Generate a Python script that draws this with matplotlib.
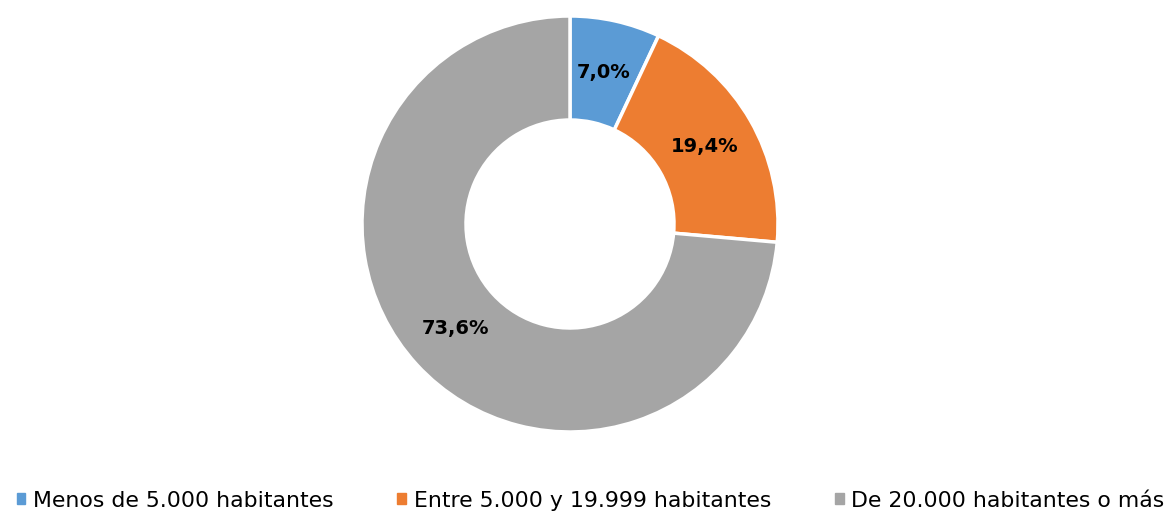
import matplotlib.pyplot as plt
from matplotlib.patches import Patch
import numpy as np

categories = ["Menos de 5.000 habitantes", "Entre 5.000 y 19.999 habitantes",
              "De 20.000 habitantes o más"]
values = [7.0, 19.4, 73.6]
labels = ["7,0%", "19,4%", "73,6%"]
colors = ["#5b9bd5", "#ed7d31", "#a5a5a5"]

fig = plt.figure(figsize=(11.67, 5.16), dpi=100)
ax = fig.add_axes([0, 0, 1, 1])

wedges, _ = ax.pie(values, center=(570, 292), radius=208, startangle=90,
                   counterclock=False, colors=colors,
                   wedgeprops=dict(width=104, edgecolor="white", linewidth=2.5),
                   frame=True)
ax.set_xlim(0, 1167)
ax.set_ylim(0, 516)
ax.set_aspect("equal")
ax.axis("off")

# percentage labels inside the ring
start = 90
for v, lab in zip(values, labels):
    mid = np.deg2rad(start - v * 3.6 / 2)
    start -= v * 3.6
    ax.text(570 + 155 * np.cos(mid), 292 + 155 * np.sin(mid), lab,
            ha="center", va="center", fontsize=14, fontweight="bold")

handles = [Patch(color=c) for c in colors]
fig.legend(handles, categories, loc="center", bbox_to_anchor=(0.506, 0.03),
           ncol=3, frameon=False, fontsize=15.8, handlelength=0.4,
           handleheight=0.4, handletextpad=0.35, columnspacing=2.9)

fig.savefig("out.png")
